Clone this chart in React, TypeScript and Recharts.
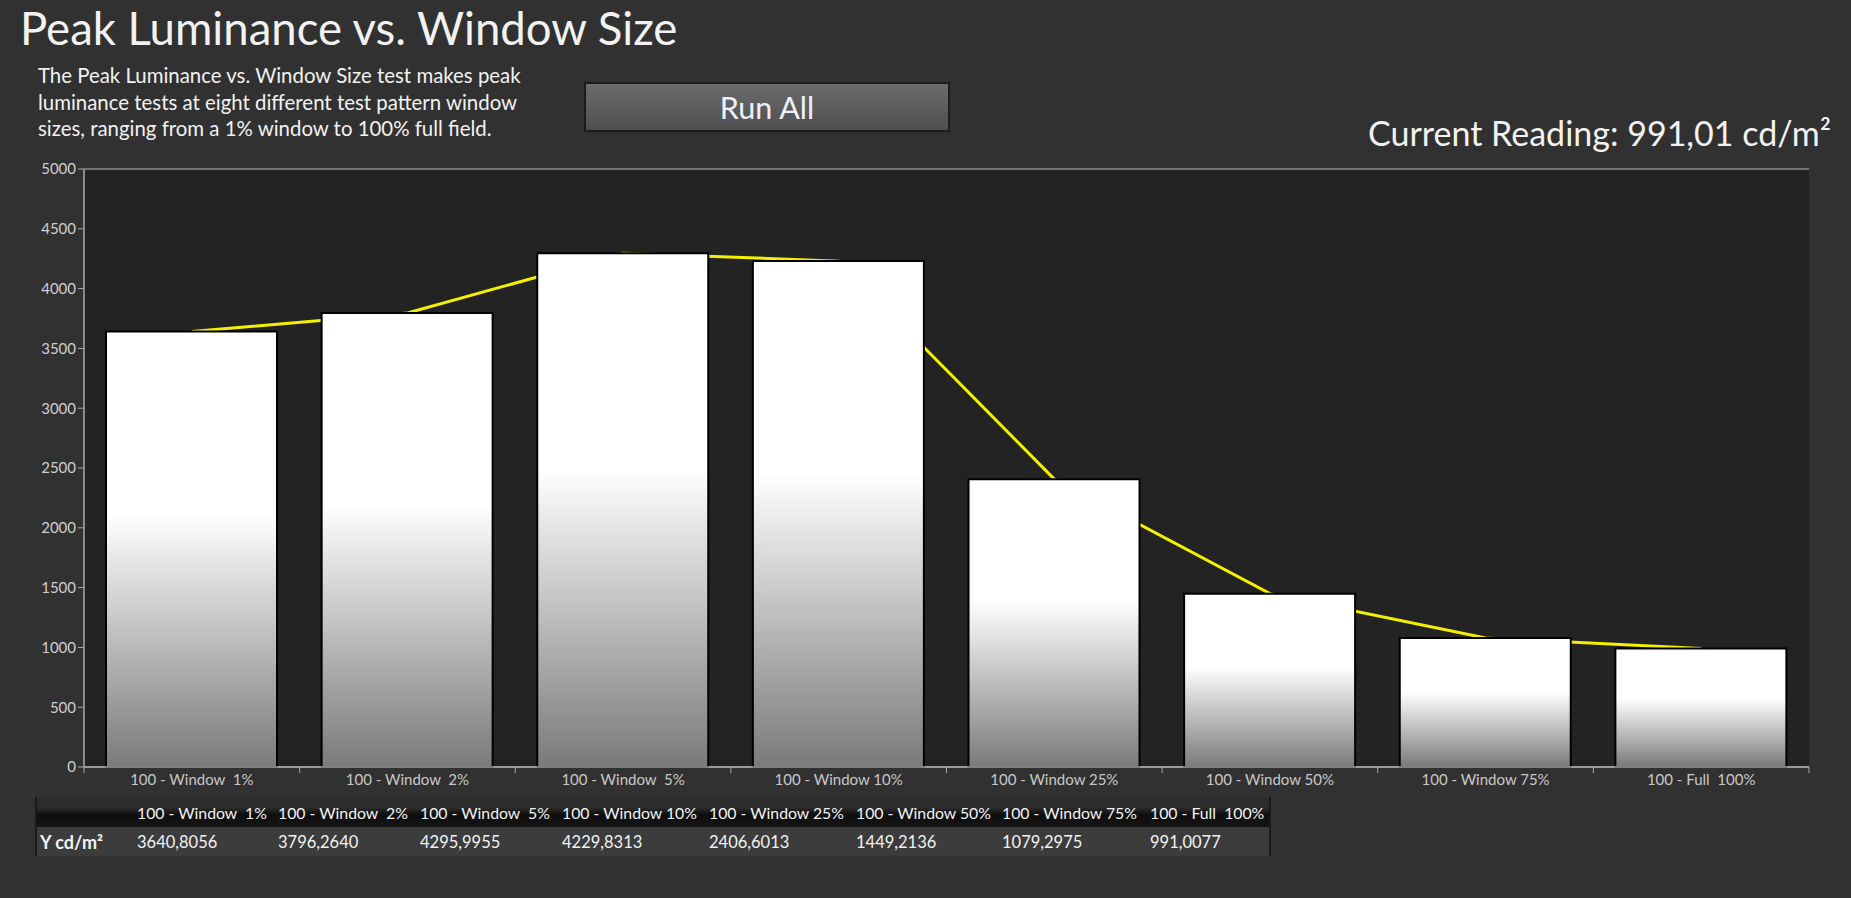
import React from 'react';
import {
  ComposedChart,
  Bar,
  Line,
  XAxis,
  YAxis,
  CartesianGrid
} from 'recharts';

// window patterns measured
const windowLabels = [
  '100 - Window  1%',
  '100 - Window  2%',
  '100 - Window  5%',
  '100 - Window 10%',
  '100 - Window 25%',
  '100 - Window 50%',
  '100 - Window 75%',
  '100 - Full  100%'
];

// luminance readings, cd/m²
const luminance = [3640.8056, 3796.264, 4295.9955, 4229.8313, 2406.6013, 1449.2136, 1079.2975, 991.0077];

const yTicks = [0, 500, 1000, 1500, 2000, 2500, 3000, 3500, 4000, 4500, 5000];

const currentReading = 991.01;

const description = [
  'The Peak Luminance vs. Window Size test makes peak',
  'luminance tests at eight different test pattern window',
  'sizes, ranging from a 1% window to 100% full field.'
];

const W = 1851;
const H = 898;
const PLOT_LEFT = 84;
const PLOT_RIGHT = 1809;
const FONT = 'Lato, "Open Sans", sans-serif';

const chartData = windowLabels.map((name, i) => ({ name, value: luminance[i] }));

const fmt = (v: number, digits: number) => v.toFixed(digits).replace('.', ',');

const XTick = (props: any) => {
  const { x, y, payload, index } = props;
  const half = (PLOT_RIGHT - PLOT_LEFT) / windowLabels.length / 2;
  const last = index === windowLabels.length - 1;
  return (
    <g>
      <line x1={x - half} x2={x - half} y1={y} y2={y + 6} stroke="#aaa" strokeWidth={1} />
      {last && <line x1={x + half} x2={x + half} y1={y} y2={y + 6} stroke="#aaa" strokeWidth={1} />}
      <text
        x={x}
        y={y + 18}
        textAnchor="middle"
        fill="#c8c8c8"
        fontSize={15}
        fontFamily={FONT}
        style={{ whiteSpace: 'pre' }}
      >
        {payload.value}
      </text>
    </g>
  );
};

// widths of the table columns under the chart
const colWidths = [101, 141, 142, 142, 147, 147, 146, 148, 120];

export default function App() {
  return (
    <div
      style={{
        position: 'absolute',
        left: 0,
        top: 0,
        width: W,
        height: H,
        background: '#313131',
        fontFamily: FONT,
        color: '#f2f2f2',
        overflow: 'hidden'
      }}
    >
      <div style={{ position: 'absolute', left: 0, top: 0 }}>
        <ComposedChart
          width={W}
          height={800}
          data={chartData}
          margin={{ top: 169, right: W - PLOT_RIGHT, bottom: 0, left: 0 }}
          barSize={171}
        >
          <defs>
            <linearGradient id="barFill" x1="0" y1="0" x2="0" y2="1">
              <stop offset="0%" stopColor="#ffffff" />
              <stop offset="42%" stopColor="#ffffff" />
              <stop offset="100%" stopColor="#7a7a7a" />
            </linearGradient>
          </defs>
          <CartesianGrid vertical={false} stroke="#8c8c8c" strokeWidth={1.5} fill="#232323" fillOpacity={1} />
          <XAxis
            dataKey="name"
            height={33}
            axisLine={{ stroke: '#aaa', strokeWidth: 1.5 }}
            tickLine={false}
            tickSize={0}
            tickMargin={0}
            interval={0}
            tick={<XTick />}
          />
          <YAxis
            yAxisId="left"
            width={PLOT_LEFT}
            domain={[0, 5000]}
            ticks={yTicks}
            interval={0}
            axisLine={{ stroke: '#aaa', strokeWidth: 1.5 }}
            tickLine={{ stroke: '#aaa' }}
            tickSize={6}
            tick={{ fill: '#cfcfcf', fontSize: 15, fontFamily: FONT }}
          />
          <YAxis
            yAxisId="right"
            orientation="right"
            width={0}
            domain={[0, 5000]}
            tick={false}
            tickLine={false}
            axisLine={{ stroke: '#aaa', strokeWidth: 1.5 }}
          />
          <Line
            yAxisId="left"
            type="linear"
            dataKey="value"
            stroke="#f4f000"
            strokeWidth={3}
            dot={false}
            activeDot={false}
            isAnimationActive={false}
            zIndex={200}
          />
          <Bar
            yAxisId="left"
            dataKey="value"
            fill="url(#barFill)"
            stroke="#000"
            strokeWidth={2}
            isAnimationActive={false}
            zIndex={300}
          />
        </ComposedChart>
      </div>

      <div style={{ position: 'absolute', left: 20, top: 2, fontSize: 45.5, lineHeight: '52px', whiteSpace: 'nowrap' }}>
        Peak Luminance vs. Window Size
      </div>

      <div style={{ position: 'absolute', left: 38, top: 62, fontSize: 20.4, lineHeight: '26.5px', whiteSpace: 'nowrap' }}>
        {description.map((l) => (
          <div key={l}>{l}</div>
        ))}
      </div>

      <div
        style={{
          position: 'absolute',
          left: 584,
          top: 82,
          width: 366,
          height: 50,
          boxSizing: 'border-box',
          border: '2px solid #1c1c1c',
          background: 'linear-gradient(#6c6c6c, #4e4e4e)',
          fontSize: 30.5,
          lineHeight: '46px',
          textAlign: 'center',
          color: '#eef0ff'
        }}
      >
        Run All
      </div>

      <div
        style={{
          position: 'absolute',
          right: W - 1831,
          top: 112,
          fontSize: 34,
          lineHeight: '42px',
          whiteSpace: 'nowrap'
        }}
      >
        Current Reading: {fmt(currentReading, 2)} cd/m²
      </div>

      <table
        style={{
          position: 'absolute',
          left: 35,
          top: 797,
          borderCollapse: 'collapse',
          tableLayout: 'fixed',
          fontSize: 16.5,
          color: '#f2f2f2',
          borderLeft: '2px solid #1a1a1a',
          borderRight: '2px solid #1a1a1a'
        }}
      >
        <colgroup>
          {colWidths.map((w, i) => (
            <col key={i} style={{ width: w }} />
          ))}
        </colgroup>
        <tbody>
          <tr style={{ height: 30, background: 'linear-gradient(#2c2c2c 0%, #2c2c2c 35%, #0e0e0e 60%, #151515 100%)' }}>
            <td />
            {windowLabels.map((l) => (
              <td key={l} style={{ whiteSpace: 'pre', padding: 0, fontSize: 15.8 }}>
                {l}
              </td>
            ))}
          </tr>
          <tr style={{ height: 29, background: '#3c3c3c' }}>
            <td style={{ fontWeight: 'bold', fontSize: 18, textAlign: 'left', paddingLeft: 3, whiteSpace: 'nowrap' }}>
              Y cd/m²
            </td>
            {luminance.map((v, i) => (
              <td key={i} style={{ whiteSpace: 'nowrap', padding: 0 }}>
                {fmt(v, 4)}
              </td>
            ))}
          </tr>
        </tbody>
      </table>
    </div>
  );
}
